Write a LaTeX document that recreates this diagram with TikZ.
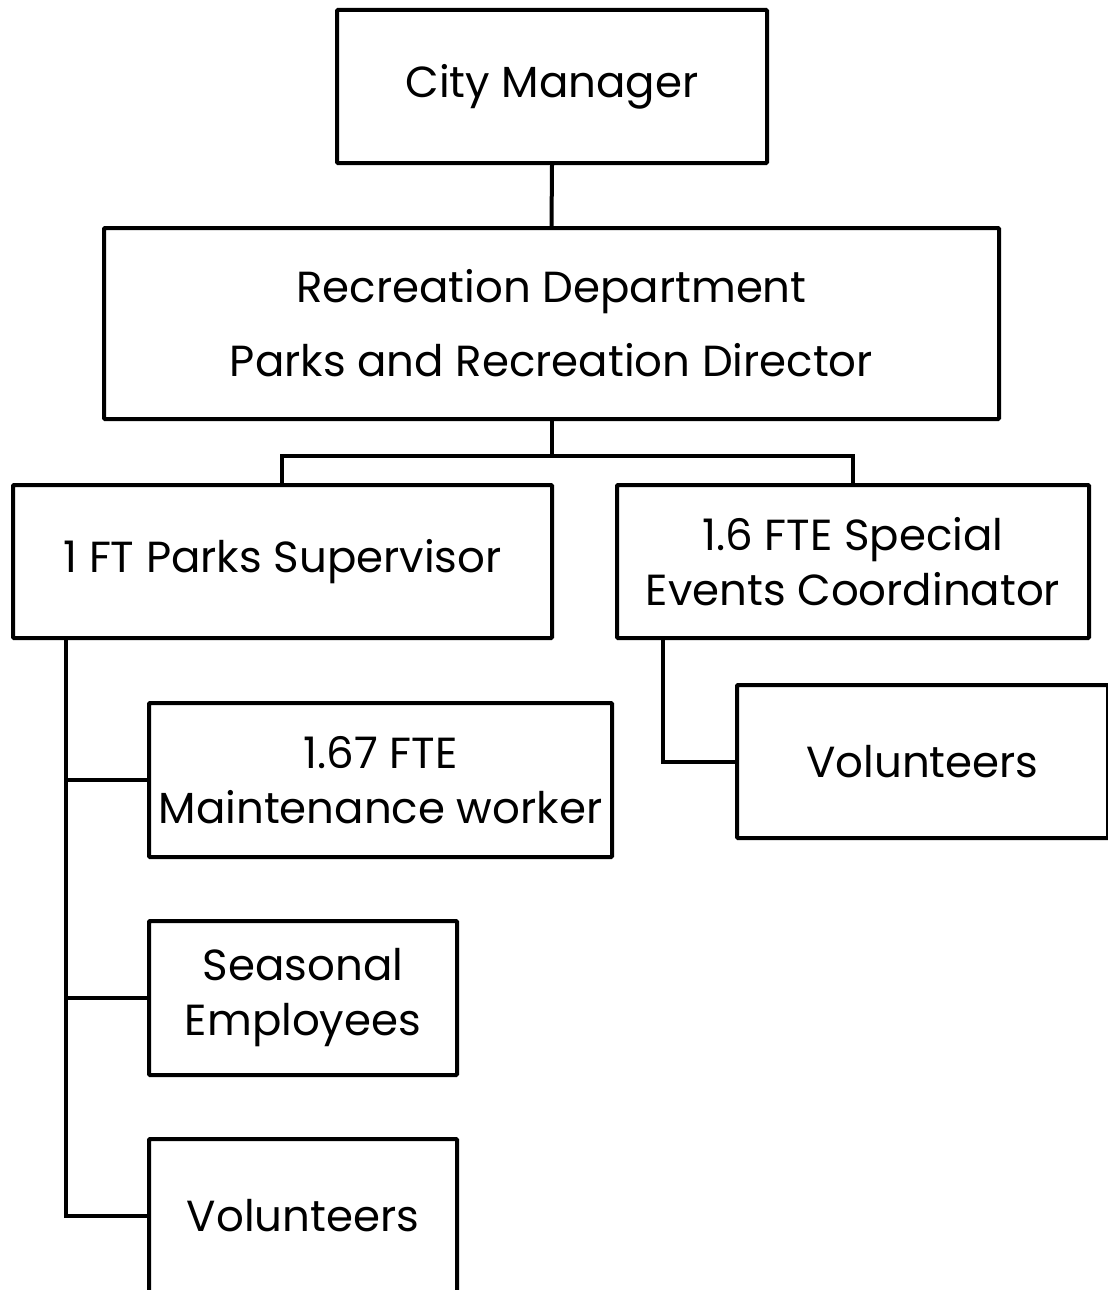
\documentclass[tikz,border=0pt]{standalone}
\usepackage{fontspec}
\setmainfont{Poppins}
\begin{document}
\begin{tikzpicture}[x=1pt,y=-1pt,
  box/.style={draw=black,line width=4pt,rectangle,rounded corners=1pt,inner sep=0pt,font=\fontsize{43.5}{55}\selectfont,align=center,anchor=north west},
  link/.style={draw=black,line width=4pt}]
\useasboundingbox (0,0) rectangle (1108,1290);

% boxes: top-left corner, width, height in px
\node[box,minimum width=430pt,minimum height=153pt] (cm) at (335,8) {City Manager};
\node[box,minimum width=895pt,minimum height=191pt,font=\fontsize{43.5}{74}\selectfont] (rd) at (102,226) {Recreation Department\\Parks and Recreation Director};
\node[box,minimum width=539pt,minimum height=153pt] (ps) at (11,483) {1 FT Parks Supervisor};
\node[box,minimum width=472pt,minimum height=153pt] (se) at (615,483) {1.6 FTE Special\\Events Coordinator};
\node[box,minimum width=463pt,minimum height=154pt] (mw) at (147,701) {1.67 FTE\\Maintenance worker};
\node[box,minimum width=308pt,minimum height=154pt] (sz) at (147,919) {Seasonal\\Employees};
\node[box,minimum width=308pt,minimum height=154pt] (vl) at (147,1137) {Volunteers};
\node[box,minimum width=371pt,minimum height=153pt] (vr) at (735,683) {Volunteers};

% reporting lines
\draw[link] (cm.south) -- (rd.north);
\path (rd.south) ++(0,35) coordinate (split);
\draw[link] (rd.south) -- (split);
\draw[link] (ps.north -| 282,0) |- (split) -| (se.north);
\coordinate (lbus) at (66,0);
\draw[link] (ps.south -| lbus) |- (vl.west);
\draw[link] (mw.west) -- (mw.west -| lbus);
\draw[link] (sz.west) -- (sz.west -| lbus);
\draw[link] (se.south -| 663,0) |- (vr.west);
\end{tikzpicture}
\end{document}
